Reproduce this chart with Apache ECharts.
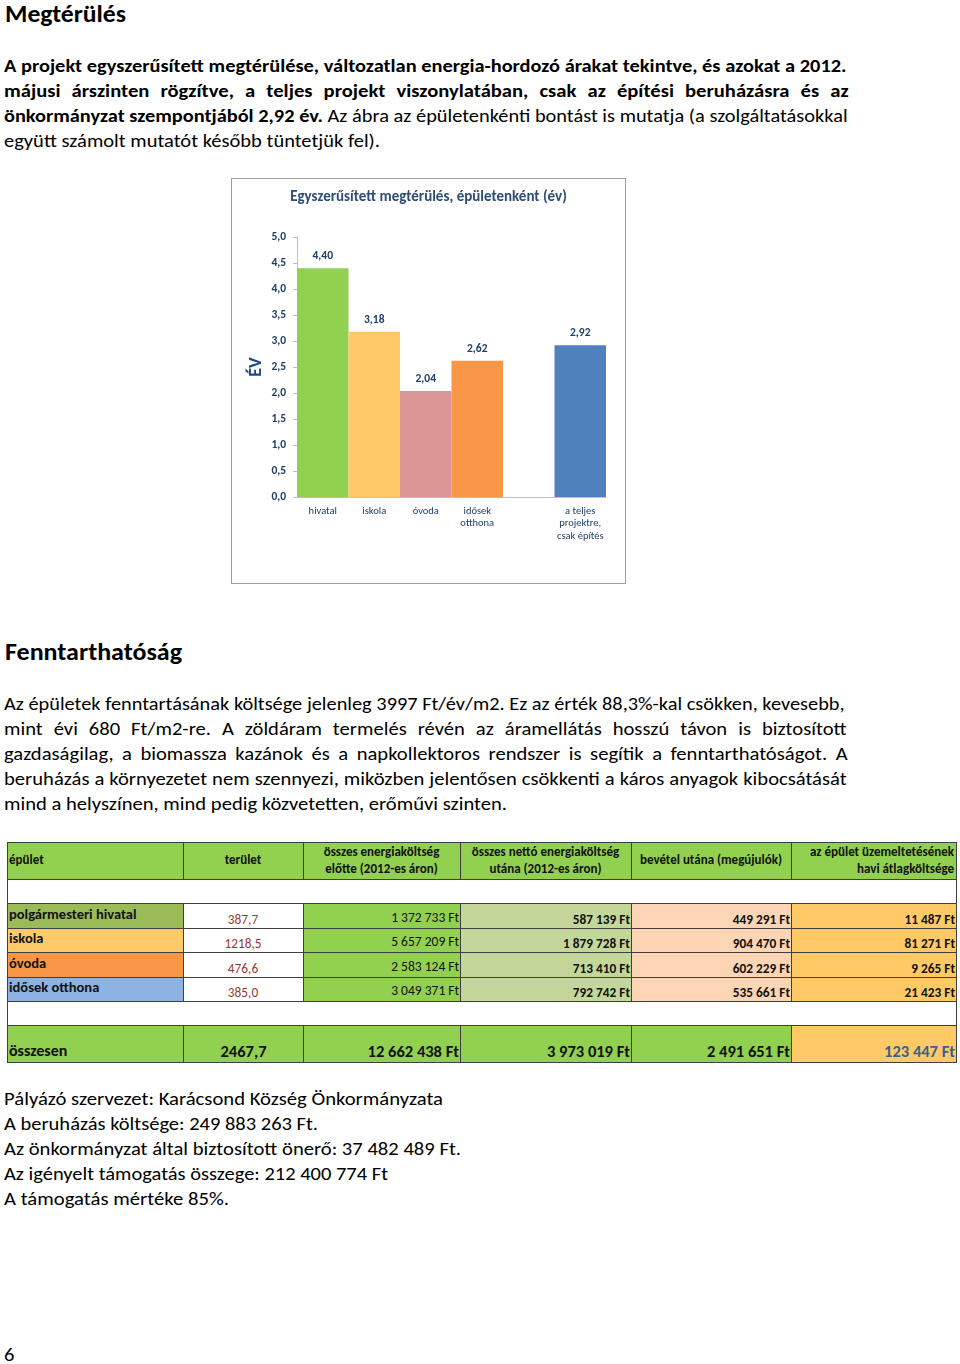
<!DOCTYPE html>
<html><head><meta charset="utf-8">
<script src="https://cdn.jsdelivr.net/npm/echarts@6/dist/echarts.min.js"></script>
<style>
html,body{margin:0;padding:0;background:#fff;}
body{width:960px;height:1364px;position:relative;overflow:hidden;font-family:Carlito, Lato, "Open Sans", sans-serif;color:#000;}
.ln{position:absolute;white-space:nowrap;transform-origin:0 0;}
.cell{position:absolute;box-sizing:border-box;display:flex;overflow:visible;white-space:pre;line-height:1.3;}
.hl{position:absolute;background:#3f3f3f;}
</style></head><body>
<div id="chartBox" style="position:absolute;left:231px;top:178px;width:393px;height:404px;border:1px solid #A0A0A0;"><div id="chart" style="width:393px;height:404px"></div></div>
<script>
const FF = 'Carlito, Lato, "Open Sans", sans-serif';

// ---------- chart data ----------
const chartTitle = 'Egyszerűsített megtérülés, épületenként (év)';
const chartCategories = ['hivatal', 'iskola', 'óvoda', 'idősek\notthona', '', 'a teljes\nprojektre,\ncsak építés'];
const paybackYears = [4.40, 3.18, 2.04, 2.62, null, 2.92];
const barColors = ['#92D050', '#FFCA66', '#D99694', '#F79646', '#FFFFFF', '#4F81BD'];
const yMin = 0, yMax = 5, yStep = 0.5;

// ---------- table data ----------
const headerLabels = ['épület', 'terület', 'összes energiaköltség\nelőtte (2012-es áron)', 'összes nettó energiaköltség\nutána (2012-es áron)', 'bevétel utána (megújulók)', 'az épület üzemeltetésének\nhavi átlagköltsége'];
const buildings = ['polgármesteri hivatal', 'iskola', 'óvoda', 'idősek otthona'];
const area = ['387,7', '1218,5', '476,6', '385,0'];
const costBefore = ['1 372 733 Ft', '5 657 209 Ft', '2 583 124 Ft', '3 049 371 Ft'];
const netAfter = ['587 139 Ft', '1 879 728 Ft', '713 410 Ft', '792 742 Ft'];
const income = ['449 291 Ft', '904 470 Ft', '602 229 Ft', '535 661 Ft'];
const monthly = ['11 487 Ft', '81 271 Ft', '9 265 Ft', '21 423 Ft'];
const totals = ['összesen', '2467,7', '12 662 438 Ft', '3 973 019 Ft', '2 491 651 Ft', '123 447 Ft'];

// ---------- page text ----------
const heading1 = 'Megtérülés';
const para1 = [
  '<b>A projekt egyszerűsített megtérülése, változatlan energia-hordozó árakat tekintve, és azokat a 2012.</b>',
  '<b>májusi árszinten rögzítve, a teljes projekt viszonylatában, csak az építési beruházásra és az</b>',
  '<b>önkormányzat szempontjából 2,92 év.</b> Az ábra az épületenkénti bontást is mutatja (a szolgáltatásokkal',
  'együtt számolt mutatót később tüntetjük fel).'
];
const heading2 = 'Fenntarthatóság';
const para2 = [
  'Az épületek fenntartásának költsége jelenleg 3997 Ft/év/m2. Ez az érték 88,3%-kal csökken, kevesebb,',
  'mint évi 680 Ft/m2-re. A zöldáram termelés révén az áramellátás hosszú távon is biztosított',
  'gazdaságilag, a biomassza kazánok és a napkollektoros rendszer is segítik a fenntarthatóságot. A',
  'beruházás a környezetet nem szennyezi, miközben jelentősen csökkenti a káros anyagok kibocsátását',
  'mind a helyszínen, mind pedig közvetetten, erőművi szinten.'
];
const footerLines = [
  'Pályázó szervezet: Karácsond Község Önkormányzata',
  'A beruházás költsége: 249 883 263 Ft.',
  'Az önkormányzat által biztosított önerő: 37 482 489 Ft.',
  'Az igényelt támogatás összege: 212 400 774 Ft',
  'A támogatás mértéke 85%.'
];
const pageNumber = '6';

// ---------- layout of text lines (positions only) ----------
const BODY_FS = 17.5;
const lines = [];
lines.push({h: heading1, x: 5, base: 22, w: 121, fs: 25, bold: true, j: false, lh: 0.9});
[[842, true], [844, true], [843, true], [376, false]].forEach((p, i) =>
  lines.push({h: para1[i], x: 4, base: 72 + i * 25, w: p[0], fs: BODY_FS, j: p[1]}));
lines.push({h: heading2, x: 5, base: 660, w: 177, fs: 25, bold: true, j: false, lh: 0.9});
[[840, true], [842, true], [843, true], [842, true], [503, false]].forEach((p, i) =>
  lines.push({h: para2[i], x: 4, base: 710 + i * 25, w: p[0], fs: BODY_FS, j: p[1]}));
[439, 314, 457, 384, 225].forEach((w, i) =>
  lines.push({h: footerLines[i], x: 4, base: 1105 + i * 25, w: w, fs: BODY_FS, j: false}));
lines.push({h: pageNumber, x: 4, base: 1361, w: 10, fs: BODY_FS, j: false, noFit: true});

function mk(o) {
  const d = document.createElement('div');
  d.className = 'ln';
  d.innerHTML = o.h + '<span style="display:inline-block;width:0;height:0;vertical-align:baseline"></span>';
  d.style.fontSize = o.fs + 'px';
  d.style.fontWeight = o.bold ? '700' : '400';
  d.style.left = o.x + 'px';
  d.style.top = '0px';
  d.style.lineHeight = Math.round(o.fs * (o.lh || 1.3)) + 'px';
  document.body.appendChild(d);
  const mark = d.lastChild;
  const b = mark.offsetTop + mark.offsetHeight;
  d.style.top = (o.base - b) + 'px';
  o.el = d;
  o.n = d.getBoundingClientRect().width;
  return o;
}
lines.forEach(mk);
const ratios = lines.filter(o => !o.j && !o.bold && !o.noFit && o.fs === BODY_FS).map(o => o.w / o.n).sort((a, b) => a - b);
const F = ratios[Math.floor(ratios.length / 2)];
lines.forEach(o => {
  if (o.noFit) { o.el.style.transform = `scaleX(${F})`; return; }
  if (o.j) {
    const f = Math.min(F, o.w / o.n);
    o.el.style.whiteSpace = 'normal';
    o.el.style.width = (o.w / f + 0.5) + 'px';
    o.el.style.textAlign = 'justify';
    o.el.style.textAlignLast = 'justify';
    o.el.style.transform = `scaleX(${f})`;
  } else {
    o.el.style.transform = `scaleX(${o.w / o.n})`;
  }
});

// ---------- table ----------
const tableCols = [7, 183, 303, 460, 631, 791, 956];
const tableRows = [842, 879, 903, 928, 952, 977, 1001, 1025, 1062];
const labelColors = ['#9BBB59', '#FFCA6A', '#F79646', '#8DB3E2'];
const colBg = [null, '#FFFFFF', '#92D050', '#C4D79B', '#FCD5B4', '#FFC966'];

function cell(c, r0, r1, bg, text, o) {
  const d = document.createElement('div');
  d.className = 'cell';
  const x0 = tableCols[c], x1 = tableCols[c + 1], y0 = tableRows[r0], y1 = tableRows[r1];
  d.style.left = x0 + 'px'; d.style.top = y0 + 'px';
  d.style.width = (x1 - x0) + 'px'; d.style.height = (y1 - y0) + 'px';
  if (bg) d.style.background = bg;
  d.style.justifyContent = o.align === 'left' ? 'flex-start' : o.align === 'center' ? 'center' : 'flex-end';
  d.style.alignItems = o.valign === 'bottom' ? 'flex-end' : 'center';
  d.style.textAlign = o.align;
  d.style.padding = `0 ${o.padR || 2}px ${o.padB || 0}px ${o.padL || 2}px`;
  d.style.fontSize = o.fs + 'px';
  d.style.fontWeight = o.bold ? '700' : '400';
  d.style.color = o.color || '#111';
  d.textContent = text;
  document.body.appendChild(d);
}
// header row
headerLabels.forEach((t, c) => {
  cell(c, 0, 1, '#92D050', t, {align: c === 0 ? 'left' : c === 5 ? 'right' : 'center', fs: 13, bold: true});
});
// empty rows
[[1, 2], [6, 7]].forEach(([a, b]) => {
  const d = document.createElement('div');
  d.className = 'cell';
  d.style.left = tableCols[0] + 'px'; d.style.top = tableRows[a] + 'px';
  d.style.width = (tableCols[6] - tableCols[0]) + 'px'; d.style.height = (tableRows[b] - tableRows[a]) + 'px';
  d.style.background = '#fff';
  document.body.appendChild(d);
});
// data rows
buildings.forEach((name, i) => {
  const r = 2 + i;
  cell(0, r, r + 1, labelColors[i], name, {align: 'left', fs: 14.5, bold: true, padB: 3});
  cell(1, r, r + 1, colBg[1], area[i], {align: 'center', fs: 13.3, color: '#953735', valign: 'bottom', padB: 0});
  cell(2, r, r + 1, colBg[2], costBefore[i], {align: 'right', fs: 13.5, valign: 'bottom', padB: 1, padR: 1});
  cell(3, r, r + 1, colBg[3], netAfter[i], {align: 'right', fs: 13.3, bold: true, valign: 'bottom', padB: 0, padR: 1});
  cell(4, r, r + 1, colBg[4], income[i], {align: 'right', fs: 13.3, bold: true, valign: 'bottom', padB: 0, padR: 1});
  cell(5, r, r + 1, colBg[5], monthly[i], {align: 'right', fs: 13.3, bold: true, valign: 'bottom', padB: 0, padR: 1});
});
// totals row
totals.forEach((t, c) => {
  cell(c, 7, 8, c === 5 ? '#FFC966' : '#92D050', t, {
    align: c === 0 ? 'left' : c === 1 ? 'center' : 'right', fs: c === 0 ? 16 : 16.5, bold: true,
    valign: 'bottom', padB: 0, padR: 1, color: c === 5 ? '#3A5F8F' : '#111'
  });
});
// grid lines
function hl(x, y, w, h) { const d = document.createElement('div'); d.className = 'hl'; d.style.left = x + 'px'; d.style.top = y + 'px'; d.style.width = w + 'px'; d.style.height = h + 'px'; document.body.appendChild(d); }
tableRows.forEach(y => hl(tableCols[0], y, tableCols[6] - tableCols[0] + 1, 1));
hl(tableCols[0], tableRows[0], 1, tableRows[8] - tableRows[0]);
hl(tableCols[6], tableRows[0], 1, tableRows[8] - tableRows[0]);
[[0, 1], [2, 6], [7, 8]].forEach(([a, b]) => {
  for (let c = 1; c < 6; c++) hl(tableCols[c], tableRows[a], 1, tableRows[b] - tableRows[a]);
});

// ---------- chart ----------
const chart = echarts.init(document.getElementById('chart'), null, {renderer: 'canvas'});
const fmt = (v, d) => (v == null ? '' : Number(v).toFixed(d).replace('.', ','));
chart.setOption({
  animation: false,
  backgroundColor: '#fff',
  textStyle: {fontFamily: FF},
  title: {
    text: chartTitle, left: 'center', top: 6,
    textStyle: {fontSize: 15, fontWeight: 'bold', color: '#2C4D75', fontFamily: FF}
  },
  grid: {left: 65, top: 58, right: 19, bottom: 86},
  xAxis: {
    type: 'category', data: chartCategories,
    axisLine: {lineStyle: {color: '#BFBFBF', width: 1}},
    axisTick: {show: false},
    axisLabel: {interval: 0, color: '#1F3F66', fontSize: 10.5, lineHeight: 12.5, margin: 8, fontFamily: FF}
  },
  yAxis: {
    type: 'value', min: yMin, max: yMax, interval: yStep,
    name: 'ÉV', nameLocation: 'middle', nameRotate: 90, nameGap: 32, nameMoveOverlap: false,
    nameTextStyle: {fontSize: 18, fontWeight: 'bold', color: '#1F497D', fontFamily: FF},
    axisLine: {show: true, lineStyle: {color: '#BFBFBF'}},
    axisTick: {show: true, length: 4, lineStyle: {color: '#BFBFBF'}},
    splitLine: {show: false},
    axisLabel: {formatter: v => fmt(v, 1), color: '#1F3F66', fontSize: 11.5, fontWeight: 'bold', margin: 11, fontFamily: FF}
  },
  series: [{
    type: 'bar',
    data: paybackYears.map((v, i) => ({value: v, itemStyle: {color: barColors[i]}})),
    barWidth: '100%',
    label: {
      show: true, position: 'top', distance: 6,
      formatter: p => fmt(p.value, 2),
      fontSize: 11.5, fontWeight: 'bold', color: '#1F3F66', fontFamily: FF
    }
  }]
});
</script>
</body></html>
